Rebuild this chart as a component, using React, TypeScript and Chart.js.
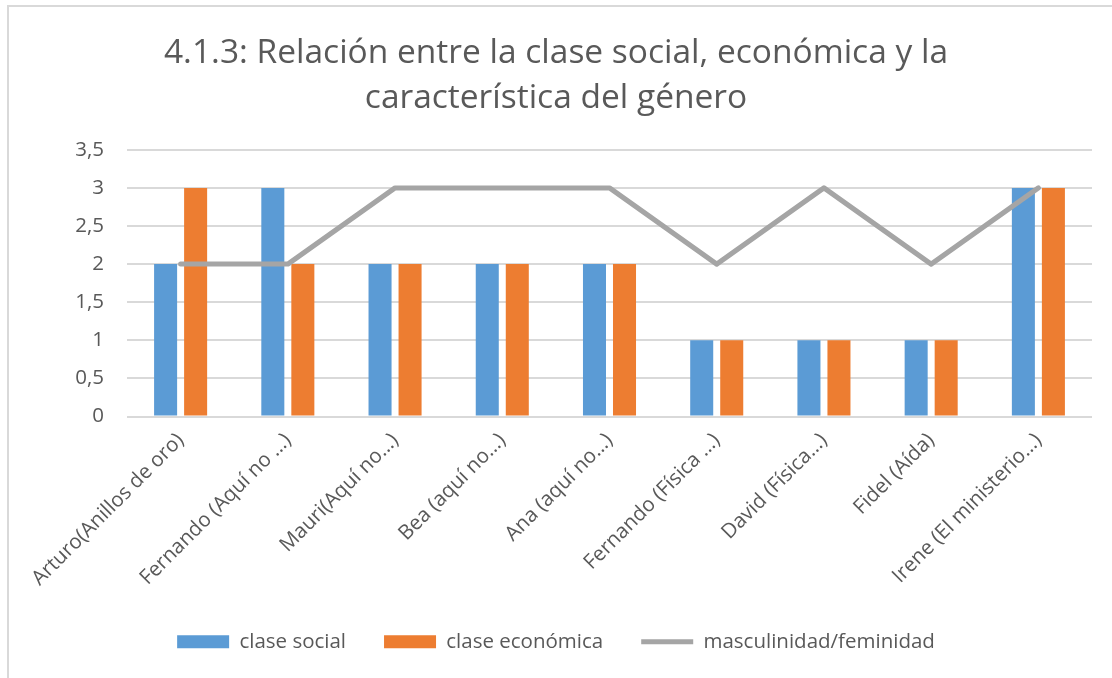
import React, { useEffect, useRef } from "react";
import { Chart, registerables } from "chart.js";

Chart.register(...registerables);

const titleLines = [
  "4.1.3: Relación entre la clase social, económica y la",
  "característica del género",
];
const categories = [
  "Arturo(Anillos de oro)",
  "Fernando (Aquí no …)",
  "Mauri(Aquí no…)",
  "Bea (aquí no…)",
  "Ana (aquí no…)",
  "Fernando (Física …)",
  "David (Física…)",
  "Fidel (Aída)",
  "Irene (El ministerio…)",
];
const claseSocial = [2, 3, 2, 2, 2, 1, 1, 1, 3];
const claseEconomica = [3, 2, 2, 2, 2, 1, 1, 1, 3];
const masculinidad = [2, 2, 3, 3, 3, 2, 3, 2, 3];
const yTickLabels = ["0", "0,5", "1", "1,5", "2", "2,5", "3", "3,5"];

const FONT = "'Open Sans', sans-serif";
const TEXT = "#595959";
const SMALL = 20.5;

export default function App() {
  const ref = useRef<HTMLCanvasElement | null>(null);
  useEffect(() => {
    if (!ref.current) return;
    const chart = new Chart(ref.current, {
      type: "bar",
      data: {
        labels: categories,
        datasets: [
          {
            type: "line",
            label: "masculinidad/feminidad",
            data: masculinidad,
            borderColor: "#A5A5A5",
            backgroundColor: "#A5A5A5",
            borderWidth: 5,
            pointRadius: 0,
            pointStyle: "line",
            tension: 0,
            borderCapStyle: "round",
            borderJoinStyle: "round",
            order: 0,
          } as any,
          {
            label: "clase social",
            data: claseSocial,
            backgroundColor: "#5B9BD5",
            borderWidth: 0,
            pointStyle: "rect",
            categoryPercentage: 0.56,
            barPercentage: 0.767,
            order: 1,
          } as any,
          {
            label: "clase económica",
            data: claseEconomica,
            backgroundColor: "#ED7D31",
            borderWidth: 0,
            pointStyle: "rect",
            categoryPercentage: 0.56,
            barPercentage: 0.767,
            order: 2,
          } as any,
        ],
      },
      options: {
        animation: false,
        responsive: false,
        layout: { padding: { left: 20, right: 20, top: 0, bottom: 16 } },
        plugins: {
          tooltip: { enabled: false },
          title: {
            display: true,
            text: titleLines,
            color: TEXT,
            font: { family: FONT, size: 33.5, weight: "normal", lineHeight: 1.34 },
            padding: { top: 31, bottom: 29 },
          },
          legend: {
            position: "bottom",
            labels: {
              color: TEXT,
              font: { family: FONT, size: SMALL },
              usePointStyle: true,
              pointStyleWidth: 52,
              boxHeight: 13,
              padding: 38,
              sort: (a: any, b: any) => (b.datasetIndex === 0 ? -1 : a.datasetIndex === 0 ? 1 : a.datasetIndex - b.datasetIndex),
            },
          },
        },
        scales: {
          x: {
            grid: { display: false },
            border: { display: false },
            ticks: {
              color: TEXT,
              font: { family: FONT, size: SMALL },
              minRotation: 45,
              maxRotation: 45,
              autoSkip: false,
              padding: 4,
            },
            afterFit: (s: any) => {
              s.height = 177;
            },
          },
          y: {
            min: 0,
            max: 3.5,
            grid: { color: "#D9D9D9", lineWidth: 2, drawTicks: false },
            border: { display: false },
            ticks: {
              stepSize: 0.5,
              color: TEXT,
              font: { family: FONT, size: SMALL },
              padding: 23,
              callback: (_v: any, i: number) => yTickLabels[i],
            },
            afterFit: (s: any) => {
              s.width = 107;
            },
          },
        },
      } as any,
    });
    return () => chart.destroy();
  }, []);
  return (
    <div style={{ position: "fixed", left: 0, top: 0, width: 1112, height: 678, background: "#fff" }}>
      <div
        style={{
          position: "absolute",
          left: 7,
          top: 5,
          width: 1120,
          height: 690,
          border: "2px solid #D9D9D9",
        }}
      />
      <canvas ref={ref} width={1112} height={678} style={{ position: "absolute", left: 0, top: 0 }} />
    </div>
  );
}
